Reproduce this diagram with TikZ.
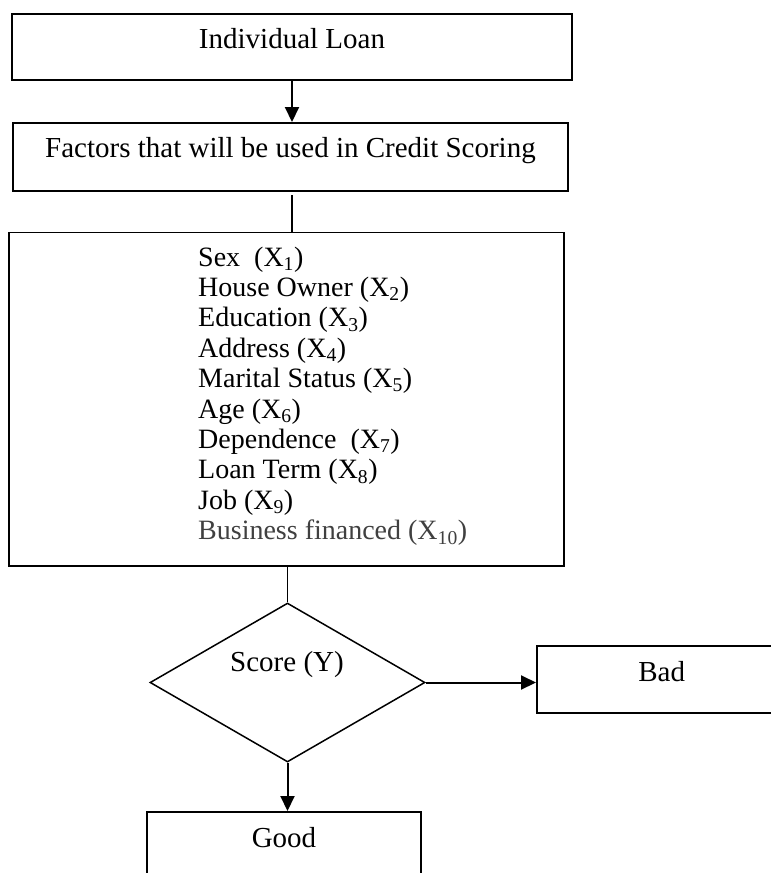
\documentclass[tikz,border=0pt]{standalone}
\usepackage{fontspec}
\setmainfont{Liberation Serif}
\usetikzlibrary{arrows.meta,shapes.geometric}
\begin{document}
\begin{tikzpicture}[x=1pt,y=-1pt,
  txt/.style={font=\fontsize{29}{30.4}\selectfont},
  listtxt/.style={font=\fontsize{28}{30.4}\selectfont},
  box/.style={draw, line width=1.5pt, rectangle, inner sep=0pt, align=center, txt},
  conn/.style={line width=1.5pt},
  arr/.style={line width=2pt, -{Triangle[length=15pt,width=14pt]}}]
\useasboundingbox (0,0) rectangle (771,873);
\clip (0,0) rectangle (771,873);
\node[box, line width=2.2pt, anchor=north, minimum width=560pt, text height=34.5pt, text depth=32pt] (loan) at (292,12.5) {Individual Loan};
\node[box, anchor=north, minimum width=555pt, text height=35pt, text depth=33pt] (title) at (290.5,122) {Factors that will be used in Credit Scoring};
\node[box, anchor=north west, minimum width=555pt, minimum height=333.5pt] (factors) at (8,231.5) {};
\node[listtxt, anchor=north west, align=left, inner sep=0pt] (list) at (198,246.5) {%
Sex~~(X\textsubscript{1})\\
House Owner (X\textsubscript{2})\\
Education (X\textsubscript{3})\\
Address (X\textsubscript{4})\\
Marital Status (X\textsubscript{5})\\
Age (X\textsubscript{6})\\
Dependence~~(X\textsubscript{7})\\
Loan Term (X\textsubscript{8})\\
Job (X\textsubscript{9})\\
\textcolor{black!75}{Business financed (X\textsubscript{10})}};
\node[draw, diamond, line width=1.5pt, minimum width=275pt, minimum height=159pt, inner sep=0pt] (score) at (287.5,682.5) {};
\node[txt] (scoretext) at (287,665) {Score (Y)};
\node[box, anchor=north west, minimum width=250pt, text height=36pt, text depth=31pt] (bad) at (536,645) {Bad};
\node[box, anchor=north, minimum width=274pt, text height=36pt, text depth=60pt] (good) at (284,811) {Good};
\coordinate (gap) at (292,195);
\draw[arr] (loan.south) -- (loan.south |- title.north);
\draw[conn] (gap) -- (gap |- factors.north);
\draw[conn] (factors.south -| score.north) -- (score.north);
\draw[arr] (score.east) -- (score.east -| bad.west);
\draw[arr] (score.south) -- (score.south |- good.north);
\end{tikzpicture}
\end{document}
